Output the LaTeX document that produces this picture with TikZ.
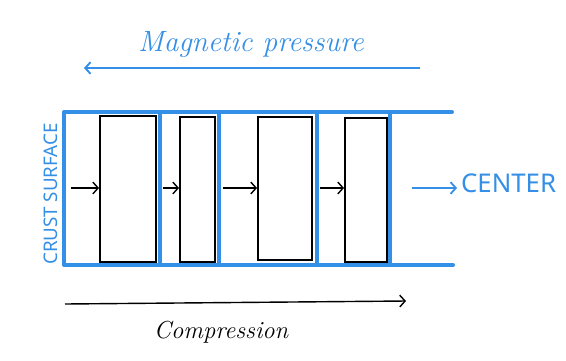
\documentclass[tikz,border=0pt]{standalone}
\usepackage{fontspec}
\usetikzlibrary{arrows.meta}
\newfontfamily\handsans{Noto Sans}
\definecolor{sketchblue}{RGB}{52,143,230}

\begin{document}
\begin{tikzpicture}[x=0.03cm,y=-0.03cm,
  wall/.style={draw=sketchblue,line width=3.4pt,line cap=round,line join=round},
  block/.style={draw,line width=1.6pt,inner sep=0pt},
  push/.style={-{Straight Barb[length=4.5pt,width=10pt]},line width=1.2pt},
  lbl/.style={font=\handsans\fontsize{22}{26}\selectfont,text=sketchblue},
  hand/.style={font=\itshape\fontsize{25}{30}\selectfont}
]
\useasboundingbox[fill=white] (0,0) rectangle (566,360);
% channel
\draw[wall] (452,112) -- (64,112) -- (64,265) -- (453,265);
\foreach \x in {160,219,317,390} \draw[wall] (\x,112) -- (\x,265);
% blocks
\node[block,minimum width=1.68cm,minimum height=4.38cm] (b1) at (128,189) {};
\node[block,minimum width=1.05cm,minimum height=4.35cm] (b2) at (197.5,189.5) {};
\node[block,minimum width=1.62cm,minimum height=4.29cm] (b3) at (285,188.5) {};
\node[block,minimum width=1.26cm,minimum height=4.32cm] (b4) at (366,190) {};
\coordinate (s1) at (71,188);
\coordinate (s2) at (163,188);
\coordinate (s3) at (223,188);
\coordinate (s4) at (320,188);
\draw[push] (s1) -- (s1 -| b1.west);
\draw[push] (s2) -- (s2 -| b2.west);
\draw[push] (s3) -- (s3 -| b3.west);
\draw[push] (s4) -- (s4 -| b4.west);
% labels
\node[lbl,rotate=90,font=\handsans\fontsize{16}{19}\selectfont] (crust) at (51,194) {CRUST SURFACE};
\node[lbl,anchor=west] (center) at (457,183) {CENTER};
\coordinate (c0) at (412,188);
\draw[push,draw=sketchblue,line width=1.5pt] (c0) -- (c0 -| center.west);
\node[hand,text=sketchblue] (mag) at (251,44) {Magnetic pressure};
\coordinate (m0) at (420,68);
\coordinate (m1) at (84,68);
\draw[push,draw=sketchblue,line width=1.6pt] (m0) -- (m1);
\node[hand,font=\itshape\fontsize{21}{25}\selectfont] (comp) at (221,332) {Compression};
\coordinate (k0) at (65,304);
\coordinate (k1) at (406,301);
\draw[push] (k0) -- (k1);
\end{tikzpicture}
\end{document}
